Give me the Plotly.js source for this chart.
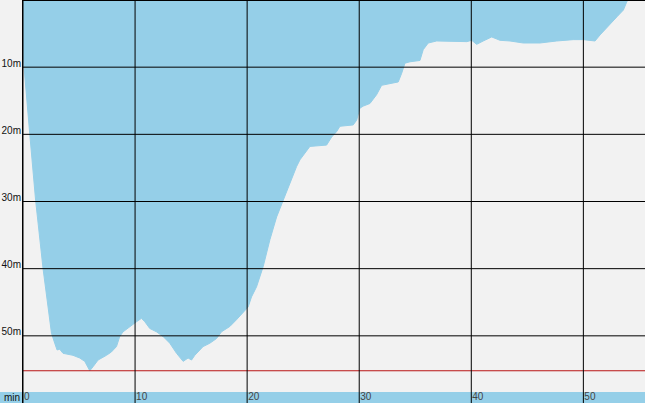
<!DOCTYPE html>
<html>
<head>
<meta charset="utf-8">
<script src="https://cdn.plot.ly/plotly-3.0.1.min.js"></script>
<style>html,body{margin:0;padding:0;background:#f2f2f2;}#chart{width:645px;height:403px;}</style>
</head>
<body>
<div id="chart"></div>
<script>
// Dive time in minutes
var times = [0, 0.09, 0.6, 1.13, 1.79, 2.14, 2.54, 2.83, 3.04, 3.28, 3.57, 4.46, 5.06, 5.51, 5.8, 5.96,
  6.25, 6.7, 7.45, 7.89, 8.34, 8.63, 8.93, 9.53, 10.13, 10.57, 10.87, 11.31, 11.91, 12.5, 13.1, 13.7,
  14.29, 14.73, 15.04, 15.33, 15.78, 16.07, 16.67, 17.27, 17.71, 18.46, 19.05, 19.64, 20.09, 20.39,
  20.84, 21.43, 22.03, 22.63, 23.21, 23.81, 24.41, 24.71, 25.15, 25.6, 27.09, 27.54, 27.98, 28.28,
  29.46, 29.77, 30.06, 30.36, 30.96, 31.55, 32.0, 32.74, 33.48, 33.79, 34.08, 34.53, 35.42, 35.71,
  36.16, 36.91, 37.5, 38.1, 39.0, 39.6, 40.04, 40.48, 41.07, 41.82, 42.56, 43.45, 44.64, 46.13,
  47.62, 49.1, 50.0, 51.04, 51.49, 52.38, 53.0, 53.57, 53.88, 54.02];
// Depth in metres
var depths = [7.1, 9.9, 19.9, 29.9, 40.0, 44.7, 49.6, 51.1, 52.1, 52.0, 52.6, 52.9, 53.3, 53.8, 54.8, 55.2,
  54.6, 53.6, 52.9, 52.4, 51.6, 50.1, 49.4, 48.6, 47.9, 47.4, 47.9, 48.9, 49.4, 50.1, 51.1, 52.6,
  53.8, 53.3, 53.6, 52.9, 52.1, 51.6, 51.1, 50.4, 49.4, 48.6, 47.6, 46.6, 45.7, 44.2,
  42.7, 39.7, 35.7, 32.3, 29.8, 27.3, 24.8, 23.8, 22.8, 21.8, 21.6, 20.4, 19.6, 18.8,
  18.6, 17.9, 16.1, 15.8, 15.4, 14.1, 12.7, 12.4, 12.2, 10.9, 9.4, 9.2, 9.0, 7.4,
  6.4, 6.1, 6.1, 6.2, 6.1, 6.2, 6.0, 6.6, 6.1, 5.5, 6.0, 6.1, 6.4, 6.4,
  6.1, 5.9, 5.9, 6.1, 5.2, 3.7, 2.5, 1.5, 0.25, 0];
var xTickVals = [0, 10, 20, 30, 40, 50];
var xTickText = ['0', '10', '20', '30', '40', '50'];
var yTickVals = [0, 10, 20, 30, 40, 50];
var yTickText = ['', '10m', '20m', '30m', '40m', '50m'];
var limitDepth = 55.2;
var xUnit = 'min';

var blue = 'rgb(149,207,232)';
var trace = {
  x: times, y: depths, type: 'scatter', mode: 'lines',
  fill: 'tozeroy', fillcolor: blue,
  line: {color: blue, width: 1}, hoverinfo: 'skip'
};

var shapes = [
  {type: 'rect', xref: 'paper', yref: 'paper', x0: -0.05, x1: 1.01, y0: 0, y1: 11 / 403,
   fillcolor: blue, line: {width: 0}, layer: 'below'},
  {type: 'line', xref: 'paper', yref: 'y', x0: 0, x1: 1, y0: limitDepth, y1: limitDepth,
   line: {color: 'rgb(185,20,20)', width: 1}, layer: 'above'}
];
// grid drawn above the filled profile
xTickVals.forEach(function (v) {
  shapes.push({type: 'line', xref: 'x', yref: 'paper', x0: v, x1: v, y0: 0, y1: 1,
    line: {color: '#000', width: 1}, layer: 'above'});
});
yTickVals.forEach(function (v) {
  shapes.push({type: 'line', xref: 'paper', yref: 'y', x0: 0, x1: 1, y0: v, y1: v,
    line: {color: '#000', width: v === 0 ? 2 : 1}, layer: 'above'});
});

var layout = {
  width: 645, height: 403,
  margin: {l: 23, r: 0, t: 0, b: 0, pad: 0},
  paper_bgcolor: '#f2f2f2', plot_bgcolor: '#f2f2f2',
  showlegend: false,
  font: {family: 'Liberation Sans, Arial, sans-serif', size: 10, color: '#111'},
  xaxis: {
    range: [0, 55.5], tickvals: xTickVals, ticktext: xTickText,
    showgrid: false, zeroline: false, showline: false,
    ticks: '', ticklabelposition: 'inside right', ticklabelstandoff: -5, ticklabelshift: 1,
    fixedrange: true
  },
  yaxis: {
    range: [60, 0], tickvals: yTickVals, ticktext: yTickText,
    showgrid: false, zeroline: false,
    showline: true, linecolor: '#000', linewidth: 1, layer: 'above traces',
    ticks: '', ticklabelshift: 4, ticklabelstandoff: -1, fixedrange: true
  },
  shapes: shapes,
  annotations: [
    {text: xUnit, xref: 'paper', yref: 'paper', x: 0, y: 0, xanchor: 'right', yanchor: 'bottom',
     showarrow: false, xshift: -1, yshift: -2, font: {size: 10, color: '#111'}}
  ]
};
Plotly.newPlot('chart', [trace], layout, {displayModeBar: false, staticPlot: true});
</script>
</body>
</html>
